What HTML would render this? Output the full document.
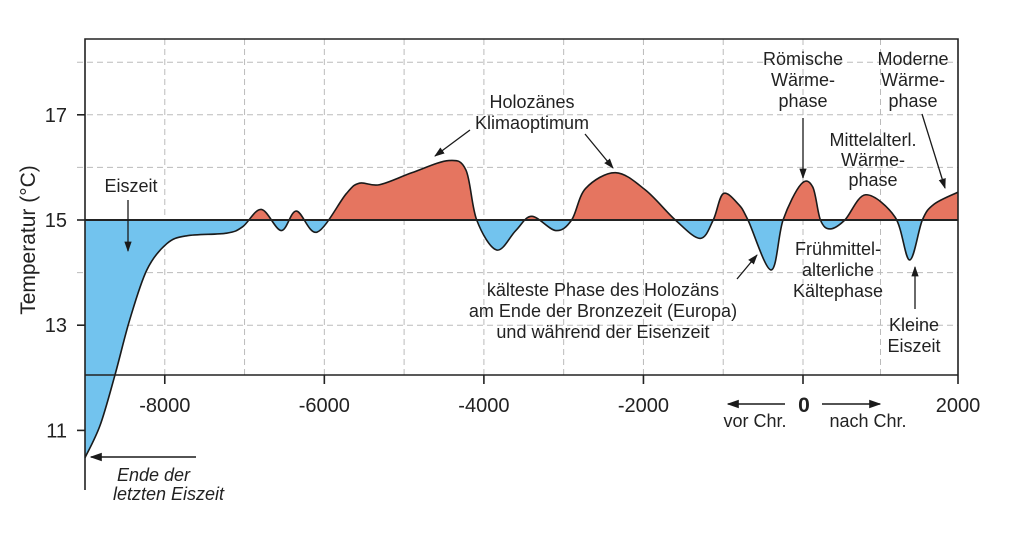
<!DOCTYPE html>
<html><head><meta charset="utf-8">
<style>
html,body{margin:0;padding:0;background:#fff;}
svg{display:block;font-family:"Liberation Sans",sans-serif;}
</style></head>
<body>
<svg id="chart" width="1024" height="541" viewBox="0 0 1024 541" xmlns="http://www.w3.org/2000/svg">
<defs>
<marker id="ah" viewBox="0 0 10 10" refX="9" refY="5" markerWidth="8" markerHeight="8" orient="auto-start-reverse"><path d="M0,1.5 L10,5 L0,8.5 z" fill="#1a1a1a"/></marker>
<clipPath id="clipAbove"><rect x="0" y="0" width="1024" height="220"/></clipPath>
<clipPath id="clipBelow"><rect x="0" y="220" width="1024" height="321"/></clipPath>
</defs>
<g id="grid"></g>
<g id="areas"></g>
<g id="axes"></g>
<g id="labels" font-size="18" fill="#222" text-anchor="middle">
  <text transform="translate(35,240) rotate(-90)" font-size="21" text-anchor="middle">Temperatur (°C)</text>
  <text x="131" y="192">Eiszeit</text>
  <line x1="128" y1="200" x2="128" y2="251" stroke="#1a1a1a" stroke-width="1.3" marker-end="url(#ah)"/>
  <text x="532" y="108"><tspan x="532">Holozänes</tspan><tspan x="532" dy="21">Klimaoptimum</tspan></text>
  <line x1="470" y1="130" x2="435" y2="156" stroke="#1a1a1a" stroke-width="1.3" marker-end="url(#ah)"/>
  <line x1="585" y1="134" x2="613" y2="168" stroke="#1a1a1a" stroke-width="1.3" marker-end="url(#ah)"/>
  <text x="603" y="296"><tspan x="603">kälteste Phase des Holozäns</tspan><tspan x="603" dy="21">am Ende der Bronzezeit (Europa)</tspan><tspan x="603" dy="21">und während der Eisenzeit</tspan></text>
  <line x1="737" y1="279" x2="757" y2="255" stroke="#1a1a1a" stroke-width="1.3" marker-end="url(#ah)"/>
  <text x="803" y="65"><tspan x="803">Römische</tspan><tspan x="803" dy="21">Wärme-</tspan><tspan x="803" dy="21">phase</tspan></text>
  <line x1="803" y1="118" x2="803" y2="178" stroke="#1a1a1a" stroke-width="1.3" marker-end="url(#ah)"/>
  <text x="913" y="65"><tspan x="913">Moderne</tspan><tspan x="913" dy="21">Wärme-</tspan><tspan x="913" dy="21">phase</tspan></text>
  <line x1="922" y1="114" x2="945" y2="188" stroke="#1a1a1a" stroke-width="1.3" marker-end="url(#ah)"/>
  <text x="873" y="146"><tspan x="873">Mittelalterl.</tspan><tspan x="873" dy="20">Wärme-</tspan><tspan x="873" dy="20">phase</tspan></text>
  <text x="838" y="255"><tspan x="838">Frühmittel-</tspan><tspan x="838" dy="21">alterliche</tspan><tspan x="838" dy="21">Kältephase</tspan></text>
  <text x="914" y="331"><tspan x="914">Kleine</tspan><tspan x="914" dy="21">Eiszeit</tspan></text>
  <line x1="915" y1="309" x2="915" y2="267" stroke="#1a1a1a" stroke-width="1.3" marker-end="url(#ah)"/>
  <text x="804" y="412" font-size="21" font-weight="bold">0</text>
  <line x1="785" y1="404" x2="728" y2="404" stroke="#1a1a1a" stroke-width="1.5" marker-end="url(#ah)"/>
  <line x1="822" y1="404" x2="880" y2="404" stroke="#1a1a1a" stroke-width="1.5" marker-end="url(#ah)"/>
  <text x="755" y="427">vor Chr.</text>
  <text x="868" y="427">nach Chr.</text>
  <line x1="196" y1="457" x2="91" y2="457" stroke="#1a1a1a" stroke-width="1.5" marker-end="url(#ah)"/>
  <text x="113" y="481" text-anchor="start" font-style="italic"><tspan x="117">Ende der</tspan><tspan x="113" dy="19">letzten Eiszeit</tspan></text>
</g>
</svg>
<script>
const years = [-9000,-8810,-8625,-8440,-8225,-7975,-7725,-7225,-7025,-6790,-6540,-6350,-6090,-5725,-5560,-5310,-4900,-4440,-4225,-4090,-3840,-3600,-3400,-3100,-2900,-2725,-2350,-1975,-1600,-1290,-1125,-1000,-810,-690,-400,-250,-25,125,225,350,540,810,1190,1375,1540,1690,2000];
const temps = [10.48,11.1,12.05,13.1,14.05,14.55,14.7,14.75,14.87,15.2,14.8,15.17,14.77,15.5,15.7,15.67,15.9,16.13,15.95,15.0,14.43,14.8,15.07,14.8,15.0,15.6,15.9,15.57,15.0,14.65,15.0,15.5,15.3,15.0,14.05,15.0,15.68,15.63,15.0,14.83,15.0,15.48,15.05,14.24,15.0,15.3,15.53];
const xTicks = [-8000,-6000,-4000,-2000,2000];
const yTicks = [11,13,15,17];
const baseline = 15;

const NS="http://www.w3.org/2000/svg";
const X = yr => yr <= 0 ? 803 + yr * (718/9000) : 803 + yr * (155/2000);
const Y = t => 220 - (t - 15) * 52.6;
function mk(tag, attrs, parent){const e=document.createElementNS(NS,tag);for(const k in attrs)e.setAttribute(k,attrs[k]);parent.appendChild(e);return e;}

const grid=document.getElementById('grid');
for(let yr=-8000; yr<2000; yr+=1000){
  const l=mk('line',{x1:X(yr),x2:X(yr),y1:39,y2:375,stroke:'#bbb','stroke-width':1,'stroke-dasharray':'6,4'},grid);
  
  
}
for(let t=12; t<=18; t++){
  if(t===15||t===12) continue;
  const l=mk('line',{x1:77,x2:958,y1:Y(t),y2:Y(t),stroke:'#bbb','stroke-width':1,'stroke-dasharray':'6,4'},grid);
  
  
}

const pts = years.map((y,i)=>[X(y),Y(temps[i])]);
let d=`M${pts[0][0]},${pts[0][1]}`;
for(let i=0;i<pts.length-1;i++){
  const p0=pts[Math.max(0,i-1)],p1=pts[i],p2=pts[i+1],p3=pts[Math.min(pts.length-1,i+2)];
  const c1=[p1[0]+(p2[0]-p0[0])/6,p1[1]+(p2[1]-p0[1])/6];
  const c2=[p2[0]-(p3[0]-p1[0])/6,p2[1]-(p3[1]-p1[1])/6];
  d+=` C${c1[0]},${c1[1]} ${c2[0]},${c2[1]} ${p2[0]},${p2[1]}`;
}
const areas=document.getElementById('areas');
const by=Y(baseline);
const fillD=d+` L${pts[pts.length-1][0]},${by} L${pts[0][0]},${by} Z`;
const warm=mk('path',{d:fillD,fill:'#e57560','clip-path':'url(#clipAbove)'},areas);


const cold=mk('path',{d:fillD,fill:'#72c3ee','clip-path':'url(#clipBelow)'},areas);


const curve=mk('path',{d:d,fill:'none',stroke:'#1a1a1a','stroke-width':1.6},areas);



const axes=document.getElementById('axes');
const frame=mk('path',{d:'M85,490 L85,39 L958,39 L958,375',fill:'none',stroke:'#222','stroke-width':1.6},axes);


const base=mk('line',{x1:85,x2:958,y1:by,y2:by,stroke:'#222','stroke-width':2},axes);


const xa=mk('line',{x1:85,x2:958,y1:375,y2:375,stroke:'#222','stroke-width':1.6},axes);


[...xTicks,0].forEach(v=>{
  const t=mk('line',{x1:X(v),x2:X(v),y1:375,y2:384,stroke:'#222','stroke-width':1.6},axes);
  
  
});
xTicks.forEach(v=>{
  const t=mk('text',{x:X(v),y:412,'font-size':20,'text-anchor':'middle',fill:'#222'},axes);
  t.textContent=v;
  
  
});
yTicks.forEach(v=>{
  const l=mk('line',{x1:77,x2:85,y1:Y(v),y2:Y(v),stroke:'#222','stroke-width':1.6},axes);
  
  
  const t=mk('text',{x:67,y:Y(v)+7,'font-size':20,'text-anchor':'end',fill:'#222'},axes);
  t.textContent=v;
  
  
});
</script>
</body></html>
